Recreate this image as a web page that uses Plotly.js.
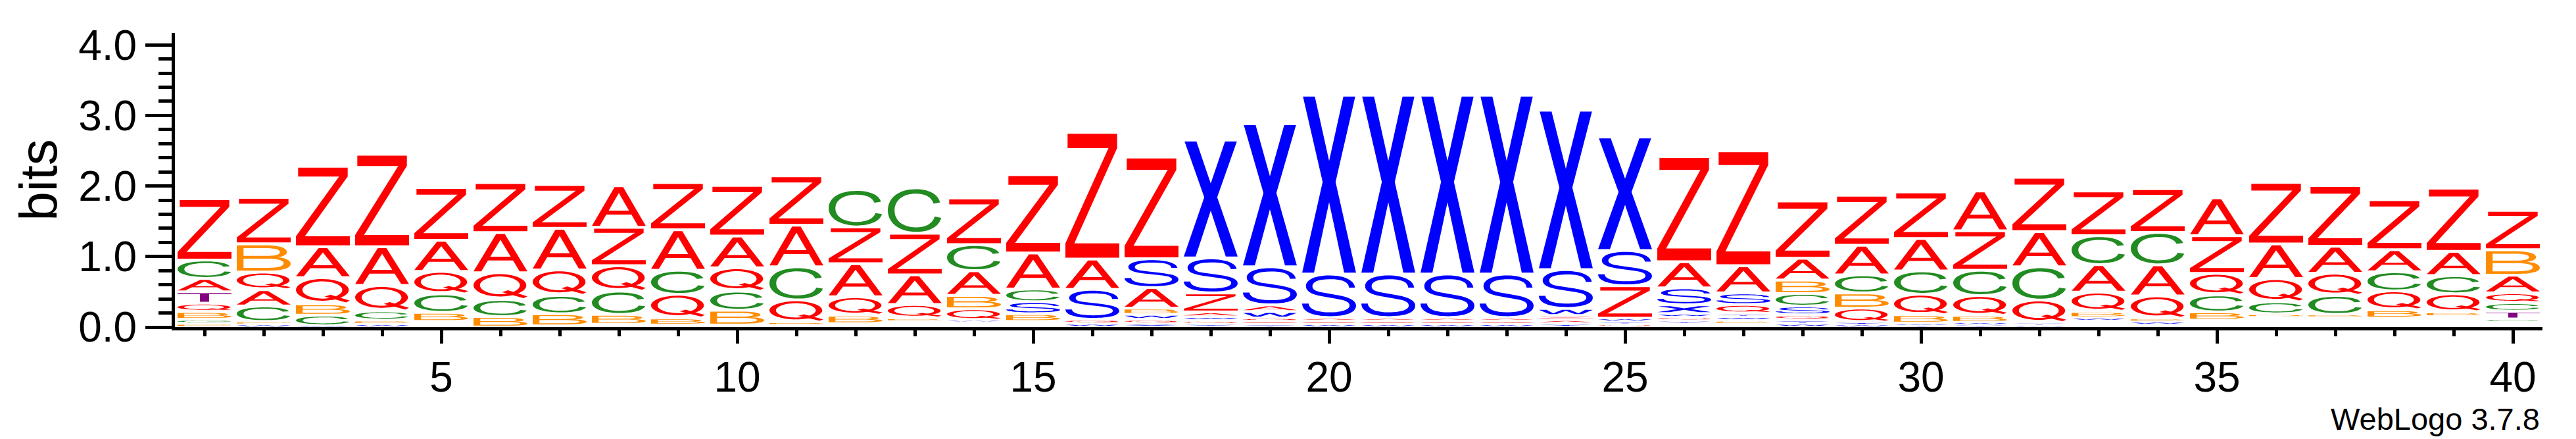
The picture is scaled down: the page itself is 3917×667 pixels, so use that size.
<!DOCTYPE html>
<html>
<head>
<meta charset="utf-8">
<script src="https://cdn.plot.ly/plotly-3.0.1.min.js"></script>
<style>html,body{margin:0;padding:0;background:#fff;}</style>
</head>
<body>
<div id="chart" style="width:3917px;height:667px;"></div>
<script>
// ---------------- DATA (bits per letter, per position) ----------------
const positions = [1,2,3,4,5,6,7,8,9,10,11,12,13,14,15,16,17,18,19,20,21,22,23,24,25,26,27,28,29,30,31,32,33,34,35,36,37,38,39,40];
const Z = [0.87,0.66,1.14,1.31,0.75,0.71,0.62,0.545,0.67,0.72,0.70,0.52,0.59,0.66,1.11,1.795,1.44,0.27,0.045,0.045,0.045,0.045,0.045,0.06,0.46,1.49,1.63,0.81,0.71,0.66,0.56,0.77,0.635,0.62,0.535,0.874,0.86,0.71,0.896,0.56];
const A = [0.19,0.23,0.44,0.55,0.44,0.57,0.59,0.59,0.575,0.45,0.59,0.47,0.42,0.35,0.51,0.43,0.29,0.07,0.095,0.05,0.05,0.05,0.05,0.055,0,0.37,0.385,0.31,0.42,0.46,0.565,0.50,0.39,0.44,0.537,0.49,0.383,0.313,0.344,0.25];
const Q = [0.12,0.25,0.37,0.36,0.32,0.38,0.36,0.36,0.335,0.33,0.315,0.26,0.19,0.16,0,0.06,0.06,0.05,0.045,0,0,0,0,0,0.04,0.05,0.125,0.075,0.20,0.29,0.28,0.32,0.272,0.316,0.306,0.33,0.313,0.268,0.256,0.14];
const C = [0.26,0.22,0.15,0.13,0.26,0.24,0.26,0.33,0.34,0.27,0.47,0.53,0.645,0.37,0.18,0,0,0,0,0,0,0,0,0,0,0,0,0.18,0.255,0.33,0.36,0.47,0.41,0.46,0.24,0.17,0.27,0.27,0.257,0.12];
const B = [0.11,0.40,0.16,0.06,0.13,0.15,0.17,0.14,0.10,0.21,0.04,0.12,0.05,0.19,0.11,0,0.09,0,0,0,0,0,0,0,0,0,0.05,0.19,0.215,0.12,0.10,0,0.09,0.05,0.117,0.05,0.04,0.116,0.07,0.36];
const S = [0,0,0,0,0,0,0,0,0,0,0,0,0,0,0.17,0.425,0.41,0.495,0.54,0.618,0.618,0.618,0.618,0.55,0.50,0.24,0.165,0.12,0,0,0,0,0,0,0,0,0,0,0,0];
const X = [0,0,0,0,0,0,0,0,0,0,0,0,0,0,0,0,0.05,1.67,2.03,2.534,2.534,2.534,2.534,2.26,1.61,0.125,0,0,0,0,0,0,0,0,0,0,0,0,0,0];
const T = [0.16,0,0,0,0,0,0,0,0,0,0,0,0,0,0,0,0,0,0,0,0,0,0,0,0,0,0,0,0,0,0,0,0,0,0,0,0,0,0,0.11];
const W = [0,0.035,0.02,0.04,0,0,0,0,0,0,0,0,0,0.03,0,0.05,0.07,0.05,0.09,0.04,0.04,0.04,0.04,0.10,0.046,0.05,0.05,0.05,0.035,0.03,0.035,0.03,0.045,0.04,0,0,0,0,0,0];
const Y = [0,0,0,0,0,0,0,0,0,0,0,0,0,0,0,0,0,0.045,0.04,0,0,0,0,0.05,0.04,0.045,0.05,0.052,0.035,0.026,0.031,0.034,0,0,0,0,0,0,0,0];
const G = [0.06,0,0,0,0,0,0,0,0,0,0,0,0,0,0,0,0,0,0,0,0,0,0,0,0,0,0,0,0,0,0,0,0,0,0,0,0,0,0,0.04];
const P = [0.05,0.045,0,0,0,0,0,0,0,0,0,0,0,0,0,0,0,0,0,0,0,0,0,0,0,0,0,0,0,0,0,0,0,0,0,0,0,0,0,0];
// sum of the sub-pixel letters at the bottom of each stack (not drawn)
const rest = [0,0,0,0,0.08,0,0.02,0.04,0.03,0.03,0.03,0.05,0.08,0.07,0.08,0,0,0,0,0,0,0,0,0,0,0.047,0.045,0,0,0,0,0,0.089,0.036,0.098,0.138,0.14,0.13,0.147,0.076];

const heights = {Z, A, Q, C, B, S, X, T, W, Y, G, P};
const letterOrder = ['Z','A','Q','C','B','S','X','T','W','Y','G','P'];
const colors = {Z:'#FF0000', A:'#FF0000', Q:'#FF0000', C:'#228B22', G:'#228B22', B:'#FF8C00', P:'#FF8C00',
                S:'#0000FF', X:'#0000FF', W:'#0000FF', Y:'#0000FF', T:'#800080'};

// ---------------- GLYPH OUTLINES (unit box, v up) ----------------
function ellipse(cx, cy, rx, ry) {
  const k = 0.5523;
  return `M ${cx+rx} ${cy} C ${cx+rx} ${cy+k*ry} ${cx+k*rx} ${cy+ry} ${cx} ${cy+ry} ` +
         `C ${cx-k*rx} ${cy+ry} ${cx-rx} ${cy+k*ry} ${cx-rx} ${cy} ` +
         `C ${cx-rx} ${cy-k*ry} ${cx-k*rx} ${cy-ry} ${cx} ${cy-ry} ` +
         `C ${cx+k*rx} ${cy-ry} ${cx+rx} ${cy-k*ry} ${cx+rx} ${cy} Z`;
}
const C_PATH = 'M 0.99 0.33 C 0.95 0.12 0.77 0 0.52 0 C 0.20 0 0 0.22 0 0.5 C 0 0.8 0.2 1 0.52 1 C 0.76 1 0.93 0.89 0.97 0.69 L 0.85 0.66 C 0.81 0.82 0.69 0.895 0.52 0.895 C 0.28 0.895 0.125 0.74 0.125 0.5 C 0.125 0.26 0.28 0.105 0.52 0.105 C 0.70 0.105 0.83 0.19 0.87 0.36 Z';
const GLYPHS = {
  Z: ['M 0.04 1 L 0.96 1 L 0.96 0.885 L 0.165 0.115 L 1 0.115 L 1 0 L 0 0 L 0 0.115 L 0.8 0.885 L 0.04 0.885 Z'],
  A: ['M 0 0 L 0.42 1 L 0.58 1 L 1 0 L 0.855 0 L 0.733 0.29 L 0.267 0.29 L 0.145 0 Z M 0.311 0.395 L 0.689 0.395 L 0.5 0.845 Z'],
  X: ['M 0 0 L 0.22 0 L 0.5 0.4 L 0.78 0 L 1 0 L 0.62 0.515 L 0.985 1 L 0.765 1 L 0.5 0.635 L 0.235 1 L 0.015 1 L 0.38 0.515 Z'],
  S: ['M 0.87 0.70 C 0.86 0.86 0.72 0.905 0.51 0.905 C 0.30 0.905 0.19 0.84 0.19 0.735 C 0.19 0.635 0.27 0.60 0.42 0.57 L 0.66 0.515 C 0.89 0.46 1 0.38 1 0.26 C 1 0.08 0.80 0 0.52 0 C 0.18 0 0 0.12 0 0.31 L 0.12 0.31 C 0.13 0.16 0.30 0.095 0.52 0.095 C 0.74 0.095 0.88 0.16 0.88 0.26 C 0.88 0.355 0.80 0.39 0.62 0.43 L 0.36 0.49 C 0.15 0.54 0.07 0.62 0.07 0.735 C 0.07 0.90 0.25 1 0.50 1 C 0.78 1 0.97 0.88 0.98 0.70 Z'],
  C: [C_PATH],
  G: [C_PATH, 'M 0.55 0.38 L 0.99 0.38 L 0.99 0.48 L 0.55 0.48 Z'],
  B: ['M 0 0 L 0 1 L 0.55 1 C 0.80 1 0.93 0.89 0.93 0.74 C 0.93 0.62 0.86 0.56 0.76 0.53 C 0.90 0.50 1 0.41 1 0.27 C 1 0.10 0.86 0 0.60 0 Z M 0.125 0.58 L 0.125 0.89 L 0.52 0.89 C 0.72 0.89 0.80 0.83 0.80 0.735 C 0.80 0.63 0.71 0.58 0.52 0.58 Z M 0.125 0.11 L 0.125 0.47 L 0.56 0.47 C 0.77 0.47 0.87 0.40 0.87 0.29 C 0.87 0.17 0.77 0.11 0.57 0.11 Z'],
  P: ['M 0 0 L 0 1 L 0.6 1 C 0.85 1 1 0.88 1 0.72 C 1 0.55 0.85 0.44 0.6 0.44 L 0.125 0.44 L 0.125 0 Z M 0.125 0.55 L 0.125 0.89 L 0.58 0.89 C 0.77 0.89 0.87 0.82 0.87 0.72 C 0.87 0.61 0.77 0.55 0.58 0.55 Z'],
  Q: [ellipse(0.49, 0.535, 0.49, 0.465) + ' ' + ellipse(0.49, 0.535, 0.37, 0.37),
      'M 0.53 0.25 L 0.64 0.33 L 1 0.075 L 0.93 0 Z'],
  T: ['M 0 1 L 1 1 L 1 0.885 L 0.585 0.885 L 0.585 0 L 0.415 0 L 0.415 0.885 L 0 0.885 Z'],
  W: ['M 0 1 L 0.14 1 L 0.265 0.2 L 0.43 1 L 0.57 1 L 0.735 0.2 L 0.86 1 L 1 1 L 0.805 0 L 0.67 0 L 0.5 0.78 L 0.33 0 L 0.195 0 Z'],
  Y: ['M 0 1 L 0.15 1 L 0.5 0.55 L 0.85 1 L 1 1 L 0.565 0.43 L 0.565 0 L 0.435 0 L 0.435 0.43 Z']
};

function placeGlyph(path, x0, w, y0, h) {
  const toks = path.match(/[MLCZ]|-?\d*\.?\d+(?:e-?\d+)?/g);
  let out = [], isX = true;
  for (const t of toks) {
    if (/[MLCZ]/.test(t)) { out.push(t); isX = true; continue; }
    const v = parseFloat(t);
    if (isX) out.push((x0 + v * w).toFixed(5)); else out.push((y0 + v * h).toFixed(5));
    isX = !isX;
  }
  let s = '', pend = null;
  for (const t of out) {
    if (/[MLCZ]/.test(t)) { s += t; pend = null; }
    else if (pend === null) { pend = t; }
    else { s += (/[MLCZ]$/.test(s) ? '' : ' ') + pend + ',' + t; pend = null; }
  }
  return s;
}

const LETTER_W = 0.91, MARGIN = 0.02;
const shapes = [];
positions.forEach((pos, i) => {
  const stack = letterOrder
    .map(L => ({L, h: heights[L][i]}))
    .filter(d => d.h > 0)
    .sort((a, b) => a.h - b.h);
  let y = rest[i];
  stack.forEach(d => {
    let ink = d.h - 2 * MARGIN, bottom = y + MARGIN;
    if (ink < d.h * 0.3) { ink = d.h * 0.3; bottom = y + d.h * 0.35; }
    GLYPHS[d.L].forEach(p => {
      shapes.push({
        type: 'path', xref: 'x', yref: 'y', layer: 'above',
        path: placeGlyph(p, pos - LETTER_W / 2, LETTER_W, bottom, ink),
        fillcolor: colors[d.L], fillrule: 'evenodd',
        line: {width: 0, color: 'rgba(0,0,0,0)'}
      });
    });
    y += d.h;
  });
});

const FONT = '"Liberation Sans", Arial, Helvetica, sans-serif';
const trace = {
  x: positions, y: positions.map(() => 0), type: 'scatter', mode: 'markers',
  marker: {opacity: 0}, hoverinfo: 'skip', showlegend: false
};
const layout = {
  width: 3917, height: 667,
  margin: {l: 266, r: 51, t: 50, b: 170},
  paper_bgcolor: '#ffffff', plot_bgcolor: '#ffffff',
  showlegend: false,
  xaxis: {
    range: [0.5, 40.5], tickmode: 'linear', tick0: 5, dtick: 5,
    ticks: 'outside', ticklen: 20, tickwidth: 5, tickcolor: '#000',
    ticklabelstandoff: -4,
    showline: true, linewidth: 5, linecolor: '#000',
    showgrid: false, zeroline: false, automargin: false,
    tickfont: {family: FONT, size: 64, color: '#000'},
    minor: {tickmode: 'linear', tick0: 0, dtick: 1, ticks: 'outside', ticklen: 9, tickwidth: 5, tickcolor: '#000', showgrid: false}
  },
  yaxis: {
    range: [0, 4.17], tickmode: 'linear', tick0: 0, dtick: 1, tickformat: '.1f',
    ticks: 'outside', ticklen: 40, tickwidth: 5, tickcolor: '#000',
    showline: true, linewidth: 5, linecolor: '#000',
    showgrid: false, zeroline: false, automargin: false,
    tickfont: {family: FONT, size: 64, color: '#000'},
    minor: {tickmode: 'linear', tick0: 0, dtick: 0.2, ticks: 'outside', ticklen: 20, tickwidth: 5, tickcolor: '#000', showgrid: false},
    title: {text: 'bits', font: {family: FONT, size: 80, color: '#000'}, standoff: 8}
  },
  annotations: [{
    text: 'WebLogo 3.7.8', xref: 'paper', yref: 'paper',
    x: 0.99944, xanchor: 'right', y: -0.312, yanchor: 'middle',
    showarrow: false, font: {family: FONT, size: 47, color: '#000'}
  }],
  shapes: shapes
};
Plotly.newPlot('chart', [trace], layout, {staticPlot: true, displayModeBar: false});
</script>
</body>
</html>
